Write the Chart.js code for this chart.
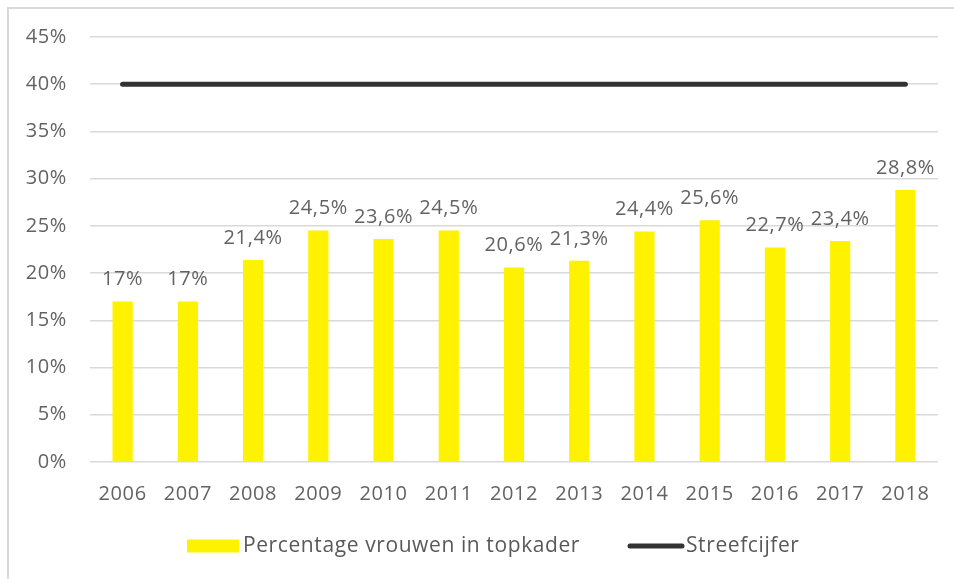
<!DOCTYPE html>
<html>
<head>
<meta charset="utf-8">
<script src="https://cdn.jsdelivr.net/npm/chart.js@4"></script>
<style>
  html, body { margin: 0; padding: 0; background: #fff; overflow: hidden; }
  #wrap { position: relative; width: 954px; height: 579px; }
  #frame { position: absolute; left: 7px; top: 7px; width: 980px; height: 620px; border: 2px solid #d9d9d9; box-sizing: border-box; }
  canvas { position: absolute; left: 0; top: 0; }
</style>
</head>
<body>
<div id="wrap">
  <div id="frame"></div>
  <canvas id="c" width="954" height="579"></canvas>
</div>
<script>
const years = ['2006','2007','2008','2009','2010','2011','2012','2013','2014','2015','2016','2017','2018'];
const percentageVrouwen = [17, 17, 21.4, 24.5, 23.6, 24.5, 20.6, 21.3, 24.4, 25.6, 22.7, 23.4, 28.8];
const streefcijfer = [40, 40, 40, 40, 40, 40, 40, 40, 40, 40, 40, 40, 40];
const seriesNames = ['Percentage vrouwen in topkader', 'Streefcijfer'];

const FONT = '"Open Sans", sans-serif';
const TEXT = '#636363';

function fmt(v) { return String(v).replace('.', ',') + '%'; }

const spacingPlugin = {
  id: 'spacing',
  beforeDraw(chart) { chart.ctx.letterSpacing = '0.6px'; }
};

const labelPlugin = {
  id: 'barLabels',
  afterDatasetsDraw(chart) {
    const ctx = chart.ctx;
    const meta = chart.getDatasetMeta(0);
    ctx.save();
    ctx.letterSpacing = '0.6px';
    ctx.font = '20px ' + FONT;
    ctx.fillStyle = TEXT;
    ctx.textAlign = 'center';
    ctx.textBaseline = 'bottom';
    meta.data.forEach((el, i) => {
      ctx.fillText(fmt(percentageVrouwen[i]), el.x, el.y - 12);
    });
    ctx.restore();
  }
};

const legendPlugin = {
  id: 'customLegend',
  afterDraw(chart) {
    const ctx = chart.ctx;
    const y = 546;
    ctx.save();
    ctx.letterSpacing = '0.6px';
    ctx.font = '21px ' + FONT;
    ctx.textBaseline = 'middle';
    ctx.textAlign = 'left';
    ctx.fillStyle = '#FFF200';
    ctx.fillRect(187, y - 6.5, 52, 13);
    ctx.fillStyle = '#595959';
    ctx.fillText(seriesNames[0], 243, y);
    ctx.strokeStyle = '#333333';
    ctx.lineWidth = 5;
    ctx.lineCap = 'round';
    ctx.beginPath();
    ctx.moveTo(630, y);
    ctx.lineTo(682, y);
    ctx.stroke();
    ctx.fillText(seriesNames[1], 686, y);
    ctx.restore();
  }
};

new Chart(document.getElementById('c'), {
  data: {
    labels: years,
    datasets: [
      {
        type: 'bar',
        label: seriesNames[0],
        data: percentageVrouwen,
        backgroundColor: '#FFF200',
        borderWidth: 0,
        categoryPercentage: 1,
        barPercentage: 0.31,
        order: 2
      },
      {
        type: 'line',
        label: seriesNames[1],
        data: streefcijfer,
        borderColor: '#333333',
        borderWidth: 5,
        borderCapStyle: 'round',
        pointRadius: 0,
        fill: false,
        order: 1
      }
    ]
  },
  options: {
    responsive: false,
    animation: false,
    layout: { padding: { left: 0, right: 16, top: 37, bottom: 0 } },
    plugins: { legend: { display: false }, tooltip: { enabled: false } },
    scales: {
      x: {
        grid: { display: false },
        border: { display: false },
        ticks: { color: TEXT, font: { family: FONT, size: 20 }, padding: 12, maxRotation: 0 },
        afterFit(scale) { scale.height = 117; }
      },
      y: {
        min: 0, max: 45,
        grid: { color: '#d9d9d9', lineWidth: 1.5, drawTicks: false },
        border: { display: false },
        ticks: { stepSize: 5, color: TEXT, font: { family: FONT, size: 20 }, padding: 23, callback: v => v + '%' },
        afterFit(scale) { scale.width = 90; }
      }
    }
  },
  plugins: [spacingPlugin, labelPlugin, legendPlugin]
});
</script>
</body>
</html>
